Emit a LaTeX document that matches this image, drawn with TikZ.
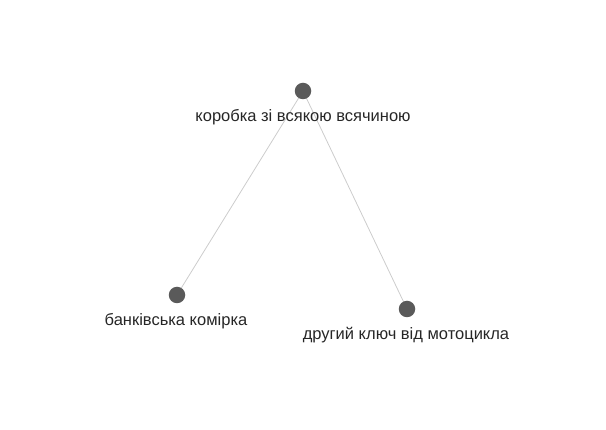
\documentclass[tikz,border=0pt]{standalone}
\usepackage{fontspec}
\setmainfont{Liberation Sans}
\definecolor{dotgray}{HTML}{5A5A5A}
\definecolor{edgegray}{HTML}{CCCCCC}
\begin{document}
\begin{tikzpicture}[x=1pt,y=-1pt,
  dot/.style={circle,fill=dotgray,minimum size=16.5pt,inner sep=0pt},
  lbl/.style={font=\fontsize{16.5}{19}\selectfont,text=black!85,inner sep=0pt,anchor=center},
  edge/.style={draw=edgegray,line width=0.8pt}]
\useasboundingbox (0,0) rectangle (606,430);
\coordinate (t) at (303,91);
\coordinate (l) at (177,295);
\coordinate (r) at (407,309);
\draw[edge] (t) -- (l);
\draw[edge] (t) -- (r);
\node[lbl] (tl) at (303,117) {коробка зі всякою всячиною};
\node[lbl] (ll) at (176,321) {банківська комірка};
\node[lbl] (rl) at (406,335) {другий ключ від мотоцикла};
\node[dot] (tn) at (t) {};
\node[dot] (ln) at (l) {};
\node[dot] (rn) at (r) {};
\end{tikzpicture}
\end{document}
